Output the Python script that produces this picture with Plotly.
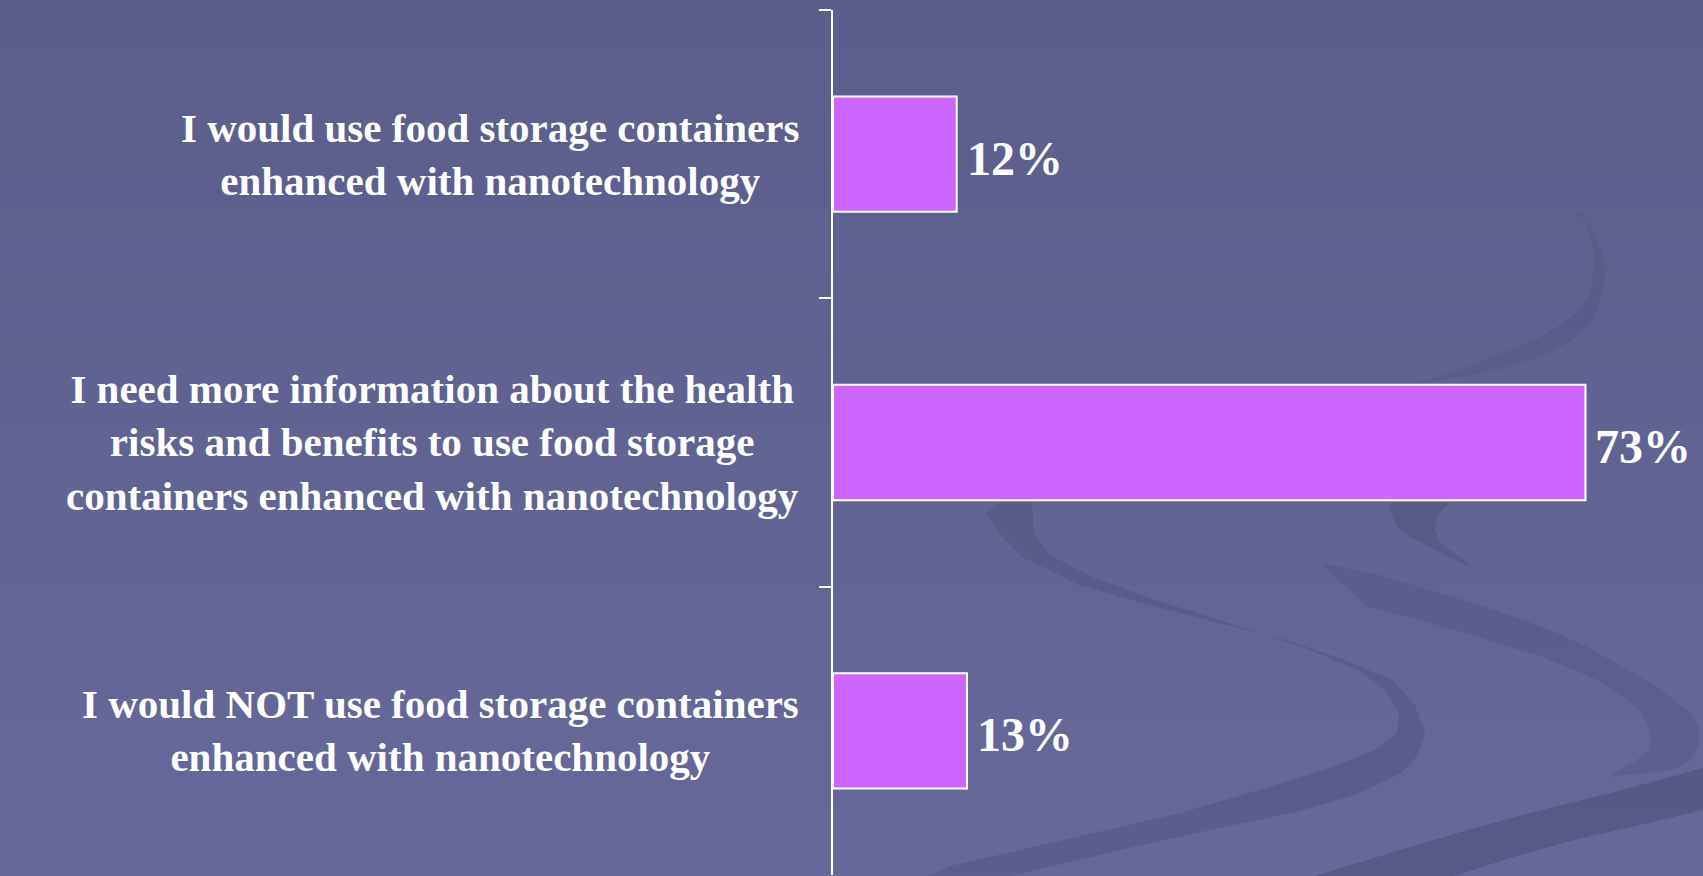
import plotly.graph_objects as go

categories = [
    "I would use food storage containers<br>enhanced with nanotechnology",
    "I need more information about the health<br>risks and benefits to use food storage<br>containers enhanced with nanotechnology",
    "I would NOT use food storage containers<br>enhanced with nanotechnology",
]
values = [12, 73, 13]
value_labels = ["12%", "73%", "13%"]

BAR = "#cc66ff"
FONT = "Liberation Serif"
W, H = 1703, 876
ML, MT, MB = 833, 10, 1

fig = go.Figure()
fig.add_trace(
    go.Bar(
        x=values,
        y=categories,
        orientation="h",
        width=0.4,
        marker=dict(color=BAR, line=dict(color="white", width=2)),
        hoverinfo="skip",
    )
)

# category labels, lines centred like on the slide
for cat in categories:
    fig.add_annotation(
        x=0, xref="paper", y=cat, yref="y",
        text=f"<b>{cat}</b>", showarrow=False,
        xanchor="right", align="center", xshift=-32,
        font=dict(family=FONT, size=41, color="white"),
    )

for cat, v, lab in zip(categories, values, value_labels):
    fig.add_annotation(
        x=v, y=cat, text=f"<b>{lab}</b>", showarrow=False,
        xanchor="left", xshift=8, yshift=-4,
        font=dict(family=FONT, size=48, color="white"),
    )

# background: soft vertical gradient
n = 30
top = (0x5b, 0x5d, 0x8a)
bot = (0x67, 0x69, 0x9b)
for i in range(n):
    t = i / (n - 1)
    c = tuple(int(round(top[k] + (bot[k] - top[k]) * t)) for k in range(3))
    fig.add_shape(
        type="rect", xref="paper", yref="paper", layer="below",
        x0=-1.5, x1=1.5, y0=1.02 - (i + 1) / n * 1.1, y1=1.02 - i / n * 1.1 + 0.01,
        fillcolor="rgb(%d,%d,%d)" % c, line_width=0,
    )


# decorative swooshes of the slide template, outlined in page pixels
def poly(pts):
    out = []
    for x, y in pts:
        out.append("%.4f,%.4f" % ((x - ML) / (W - ML), (H - MB - y) / (H - MT - MB)))
    return "M" + " L".join(out) + " Z"


swooshes = [
    # main S
    ([(986, 513), (1000, 535), (1022, 557), (1080, 585), (1142, 603), (1215, 622), (1286, 640),
      (1345, 660), (1392, 680), (1415, 705), (1425, 733), (1418, 755), (1401, 773), (1355, 795),
      (1296, 812), (1220, 828), (1142, 845), (1070, 862), (1010, 876), (930, 876), (950, 866),
      (1020, 850), (1094, 833), (1180, 813), (1260, 790), (1330, 768), (1375, 750), (1397, 733),
      (1399, 712), (1385, 690), (1358, 670), (1300, 646), (1219, 620), (1150, 598), (1094, 578),
      (1050, 555), (1034, 533), (1032, 503), (1000, 503)], "rgba(74,74,118,0.36)"),
    # second S
    ([(1320, 563), (1380, 575), (1430, 590), (1495, 610), (1550, 630), (1590, 648), (1622, 667),
      (1650, 682), (1670, 697), (1690, 712), (1699, 725), (1699, 747), (1690, 760), (1672, 770),
      (1608, 777), (1632, 763), (1648, 752), (1651, 740), (1647, 725), (1642, 713), (1625, 698),
      (1598, 680), (1545, 658), (1478, 637), (1420, 620), (1368, 607)], "rgba(74,74,118,0.28)"),
    # small hook under the long bar
    ([(1389, 503), (1392, 515), (1397, 527), (1412, 538), (1430, 547), (1450, 558), (1473, 568),
      (1455, 553), (1440, 543), (1435, 530), (1438, 515), (1450, 503)], "rgba(74,74,118,0.38)"),
    # top right crescent
    ([(1577, 212), (1590, 225), (1597, 240), (1604, 260), (1605, 280), (1600, 300), (1593, 320),
      (1575, 338), (1550, 353), (1520, 364), (1483, 373), (1450, 379), (1417, 383), (1460, 370),
      (1500, 353), (1535, 340), (1557, 327), (1580, 310), (1590, 293), (1593, 275), (1595, 257),
      (1590, 235), (1582, 212)], "rgba(74,74,118,0.22)"),
    # dark band bottom right
    ([(1315, 876), (1400, 850), (1478, 827), (1550, 808), (1622, 790), (1703, 768),
      (1703, 810), (1640, 825), (1574, 840), (1510, 858), (1454, 876)], "rgba(70,70,110,0.45)"),
]
for pts, col in swooshes:
    fig.add_shape(type="path", xref="paper", yref="paper", layer="below",
                  path=poly(pts), fillcolor=col, line_width=0)

fig.update_xaxes(range=[0, 84.4], visible=False)
fig.update_yaxes(
    autorange="reversed",
    showticklabels=False,
    showline=True, linecolor="white", linewidth=2,
    ticks="outside", tickson="boundaries", ticklen=12, tickcolor="white", tickwidth=2,
    showgrid=False, zeroline=False,
)
fig.update_layout(
    width=W, height=H,
    margin=dict(l=ML, r=0, t=MT, b=MB),
    paper_bgcolor="#64669a", plot_bgcolor="rgba(0,0,0,0)",
    showlegend=False,
    bargap=0.6,
)
fig.write_html(
    "out.html",
    config={"displayModeBar": False},
    post_script="document.body.style.margin='0px';document.body.style.background='#64669a';",
)
